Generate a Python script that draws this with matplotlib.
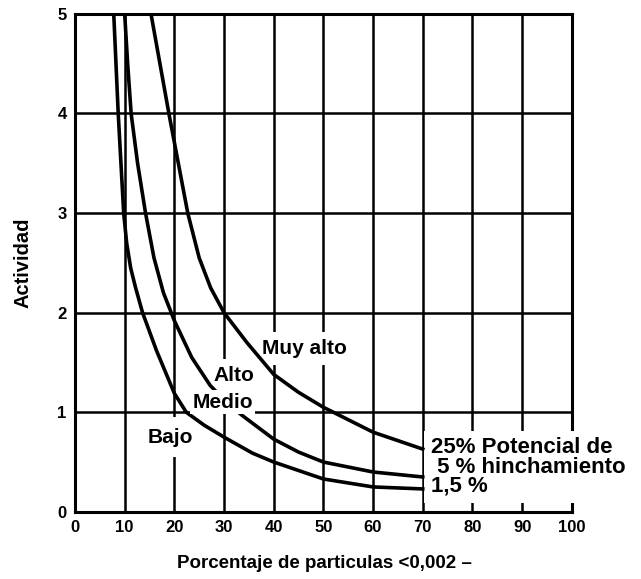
import matplotlib
matplotlib.use('Agg')  # sin pantalla
import matplotlib.pyplot as plt

plt.rcParams['font.family'] = ['Liberation Sans', 'DejaVu Sans']
plt.rcParams['font.weight'] = 'bold'

# Curvas de potencial de hinchamiento
x_15 = [7.8, 8.7, 9.8, 10.4, 11.2, 12.2, 13.6, 16.4, 20.0, 22.4, 26.0, 30.0, 35.7, 40.0, 50.0, 60.0, 70.0]
y_15 = [5.0, 4.0, 3.0, 2.7, 2.45, 2.25, 2.0, 1.62, 1.19, 1.0, 0.87, 0.75, 0.59, 0.50, 0.33, 0.25, 0.23]

x_5 = [10.0, 10.6, 11.3, 12.6, 14.2, 15.9, 17.8, 20.0, 23.5, 27.2, 30.5, 33.6, 40.0, 45.0, 50.0, 60.0, 70.0]
y_5 = [5.0, 4.5, 4.0, 3.5, 3.0, 2.55, 2.2, 1.92, 1.55, 1.27, 1.10, 0.97, 0.73, 0.60, 0.50, 0.40, 0.35]

x_25 = [15.3, 18.9, 22.7, 25.0, 27.3, 30.0, 34.6, 40.0, 45.0, 50.0, 60.0, 70.0]
y_25 = [5.0, 4.0, 3.0, 2.55, 2.25, 2.0, 1.70, 1.38, 1.20, 1.05, 0.80, 0.63]

x_ticks = [0, 10, 20, 30, 40, 50, 60, 70, 80, 90, 100]
y_ticks = [0, 1, 2, 3, 4, 5]

fig = plt.figure(figsize=(6.41, 5.79), dpi=100)
ax = fig.add_axes([0.117, 0.116, 0.775, 0.860])

# Curvas
for xs, ys in [(x_15, y_15), (x_5, y_5), (x_25, y_25)]:
    ax.plot(xs, ys, color='black', lw=2.6, zorder=4, solid_joinstyle='round')

ax.set_xlim(0, 100)
ax.set_ylim(0, 5)
ax.set_xticks(x_ticks)
ax.set_yticks(y_ticks)
ax.tick_params(length=0, labelsize=12, pad=6)
for lab in ax.get_xticklabels() + ax.get_yticklabels():
    lab.set_fontweight('bold')

ax.set_axisbelow(True)
ax.grid(True, color='black', lw=1.8)
for sp in ax.spines.values():
    sp.set_linewidth(2.2)

# Etiquetas de zonas (el fondo blanco corta la cuadricula)
white = dict(facecolor='white', edgecolor='none', boxstyle='square,pad=0.35')
ax.text(37.6, 1.64, 'Muy alto', fontsize=15, va='center', ha='left', zorder=3, bbox=white)
ax.text(27.9, 1.37, 'Alto', fontsize=15, va='center', ha='left', zorder=3, bbox=white)
ax.text(23.6, 1.10, 'Medio', fontsize=15, va='center', ha='left', zorder=5,
        bbox=dict(facecolor='white', edgecolor='none', boxstyle='square,pad=0.12'))
ax.text(14.6, 0.75, 'Bajo', fontsize=15, va='center', ha='left', zorder=3,
        bbox=dict(facecolor='white', edgecolor='none', boxstyle='square,pad=0.5'))

# Potencial de hinchamiento
ax.text(71.6, 0.45, '25% Potencial de\n 5 % hinchamiento\n1,5 %', fontsize=16,
        va='center', ha='left', linespacing=0.9, zorder=3,
        bbox=dict(facecolor='white', edgecolor='none', boxstyle='square,pad=0.28'))

ax.set_xlabel('Porcentaje de particulas <0,002 –', fontsize=13.5, fontweight='bold')
ax.xaxis.set_label_coords(0.503, -0.086)
ax.set_ylabel('Actividad', fontsize=14.5, fontweight='bold')
ax.yaxis.set_label_coords(-0.085, 0.5)

plt.savefig('out.png', dpi=100)
